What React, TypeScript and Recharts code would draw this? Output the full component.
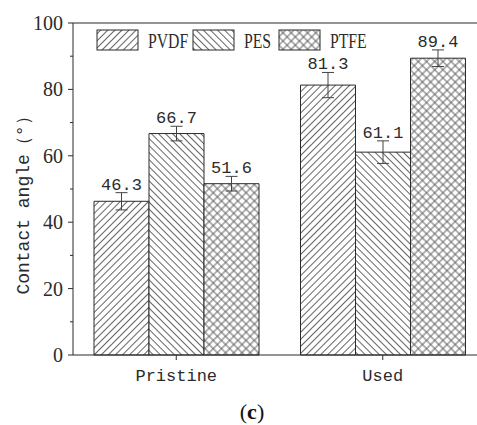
import React from "react";
import { BarChart, Bar, XAxis, YAxis, ErrorBar, ReferenceLine } from "recharts";

// ── data ───────────────────────────────────────────────────────────────
const categories = ["Pristine", "Used"];
const pvdf = [46.3, 81.3];
const pvdfErr = [2.6, 3.8];
const pes = [66.7, 61.1];
const pesErr = [2.2, 3.4];
const ptfe = [51.6, 89.4];
const ptfeErr = [2.2, 2.5];
const yTicks = [0, 10, 20, 30, 40, 50, 60, 70, 80, 90, 100];

const data = categories.map((name, i) => ({
  name,
  PVDF: pvdf[i],
  PVDF_err: pvdfErr[i],
  PES: pes[i],
  PES_err: pesErr[i],
  PTFE: ptfe[i],
  PTFE_err: ptfeErr[i],
}));

const SERIES = [
  { key: "PVDF", fill: "url(#hatchFwd)", err: pvdfErr },
  { key: "PES", fill: "url(#hatchBack)", err: pesErr },
  { key: "PTFE", fill: "url(#hatchCross)", err: ptfeErr },
];

const INK = "#2b2b2b";
const HATCH = "#555";
const MONO = "'Liberation Mono', monospace";
const SERIF = "'Liberation Serif', 'Times New Roman', serif";

// legend layout (swatch x positions)
const LEGEND_X = [97, 193, 279];

function Patterns() {
  return (
    <svg width={0} height={0} style={{ position: "absolute" }}>
      <defs>
        <pattern id="hatchFwd" patternUnits="userSpaceOnUse" width={5} height={5} patternTransform="rotate(45)">
          <rect width={5} height={5} fill="#fff" />
          <line x1={2.5} y1={0} x2={2.5} y2={5} stroke={HATCH} strokeWidth={0.9} />
        </pattern>
        <pattern id="hatchBack" patternUnits="userSpaceOnUse" width={5} height={5} patternTransform="rotate(-45)">
          <rect width={5} height={5} fill="#fff" />
          <line x1={2.5} y1={0} x2={2.5} y2={5} stroke={HATCH} strokeWidth={0.9} />
        </pattern>
        <pattern id="hatchCross" patternUnits="userSpaceOnUse" width={5.8} height={5.8} patternTransform="rotate(45)">
          <rect width={5.8} height={5.8} fill="#fff" />
          <line x1={2.9} y1={0} x2={2.9} y2={5.8} stroke={HATCH} strokeWidth={0.9} />
          <line x1={0} y1={2.9} x2={5.8} y2={2.9} stroke={HATCH} strokeWidth={0.9} />
        </pattern>
      </defs>
    </svg>
  );
}

function YTick(props: any) {
  const { x, y, payload } = props;
  const major = payload.value % 20 === 0;
  const len = major ? 5 : 3;
  return (
    <g>
      <line x1={x - len} y1={y} x2={x} y2={y} stroke={INK} strokeWidth={1} />
      {major && (
        <text x={x - 10} y={y} dy="0.35em" textAnchor="end" fontFamily={SERIF} fontSize={20} fill={INK}>
          {payload.value}
        </text>
      )}
    </g>
  );
}

function makeValueLabel(err: number[]) {
  return (props: any) => {
    const { x, y, width, height, value, index } = props;
    if (value == null) return null;
    const top = y - (err[index] * height) / value;
    return (
      <text x={x + width / 2} y={top - 3} textAnchor="middle" fontFamily={MONO} fontSize={17} fill={INK}>
        {value.toFixed(1)}
      </text>
    );
  };
}

function Overlay() {
  return (
    <svg width={477} height={425} style={{ position: "absolute", left: 0, top: 0, pointerEvents: "none" }}>
      {SERIES.map((s, i) => (
        <g key={s.key}>
          <rect x={LEGEND_X[i]} y={30} width={41} height={20} fill={s.fill} stroke={INK} strokeWidth={1} />
          <text
            transform={`translate(${LEGEND_X[i] + 51},48) scale(0.75,1)`}
            fontFamily={SERIF}
            fontSize={21}
            fill={INK}
          >
            {s.key}
          </text>
        </g>
      ))}
      <text
        transform="translate(24,201) rotate(-90)"
        textAnchor="middle"
        dominantBaseline="central"
        fontFamily={MONO}
        fontSize={18}
        fill={INK}
      >
        Contact angle（°）
      </text>
      <text x={252} y={419} textAnchor="middle" fontFamily={SERIF} fontSize={22} fill="#111">
        (<tspan fontWeight="bold">c</tspan>)
      </text>
    </svg>
  );
}

export default function App() {
  return (
    <div
      style={{
        position: "absolute",
        left: 0,
        top: 0,
        width: 477,
        height: 425,
        overflow: "hidden",
        background: "#fff",
      }}
    >
      <Patterns />
      <BarChart
        width={500}
        height={425}
        data={data}
        margin={{ top: 23, right: 14, left: 13, bottom: 40 }}
        barGap={0}
        barSize={55}
      >
        <XAxis
          dataKey="name"
          tickSize={5}
          tickMargin={9}
          axisLine={{ stroke: INK }}
          tickLine={{ stroke: INK }}
          height={30}
          tick={{ fontFamily: MONO, fontSize: 17, fill: INK }}
        />
        <YAxis
          domain={[0, 100]}
          ticks={yTicks}
          interval={0}
          width={60}
          tickSize={0}
          tickMargin={0}
          tickLine={false}
          axisLine={{ stroke: INK }}
          tick={<YTick />}
        />
        <ReferenceLine y={100} stroke={INK} strokeWidth={1} />
        {SERIES.map((s) => (
          <Bar
            key={s.key}
            dataKey={s.key}
            fill={s.fill}
            stroke={INK}
            strokeWidth={1}
            isAnimationActive={false}
            label={makeValueLabel(s.err)}
          >
            <ErrorBar
              dataKey={`${s.key}_err`}
              width={6}
              stroke="#444"
              strokeWidth={1}
              direction="y"
              isAnimationActive={false}
            />
          </Bar>
        ))}
      </BarChart>
      <Overlay />
    </div>
  );
}
